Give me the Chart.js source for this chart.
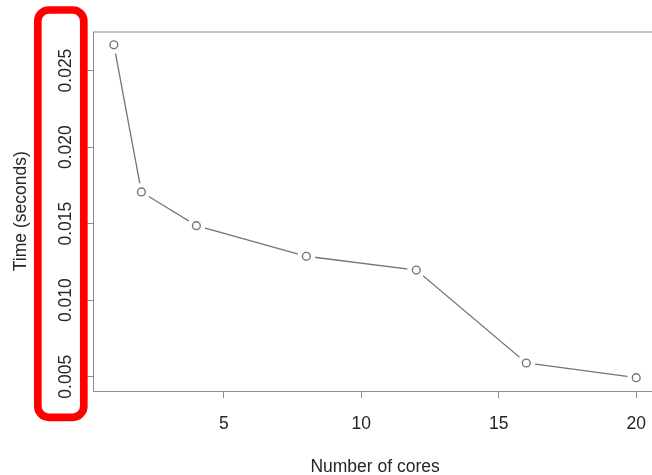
<!DOCTYPE html>
<html>
<head>
<meta charset="utf-8">
<script src="https://cdn.jsdelivr.net/npm/chart.js@4.4.0/dist/chart.umd.min.js"></script>
<style>
    html, body { margin: 0; padding: 0; background: #fff; overflow: hidden; width: 652px; height: 475px; }
    #wrap { width: 662px; height: 475px; }
</style>
</head>
<body>
<div id="wrap"><canvas id="chart" width="662" height="475"></canvas></div>
<script>
    // values
    var cores = [1, 2, 4, 8, 12, 16, 20];
    var times = [0.02668, 0.01707, 0.01487, 0.01287, 0.01197, 0.0059, 0.00494];
    var xTicks = [5, 10, 15, 20];
    var yTicks = [0.005, 0.010, 0.015, 0.020, 0.025];
    var xRange = [0.24, 20.76];
    var yRange = [0.00407, 0.02755];

    var FONT = "'Liberation Sans', Arial, Helvetica, sans-serif";
    var TEXT = '#262626';
    var FRAME = '#8c8c8c';
    var LINE = '#747474';

    function fixTicks(values) {
        return function (scale) {
            scale.ticks = values.map(function (v) { return { value: v }; });
        };
    }

    // R type = "b": open circles with a small gap where the line meets them
    var openCircles = {
        id: 'openCircles',
        afterDatasetsDraw: function (chart) {
            var ctx = chart.ctx;
            ctx.save();
            chart.getDatasetMeta(0).data.forEach(function (pt) {
                ctx.fillStyle = '#fff';
                ctx.beginPath();
                ctx.arc(pt.x, pt.y, 9, 0, Math.PI * 2);
                ctx.fill();
                ctx.strokeStyle = LINE;
                ctx.lineWidth = 1.4;
                ctx.beginPath();
                ctx.arc(pt.x, pt.y, 3.9, 0, Math.PI * 2);
                ctx.stroke();
            });
            ctx.restore();
        }
    };

    var decorations = {
        id: 'decorations',
        afterDraw: function (chart) {
            var ctx = chart.ctx;
            var area = chart.chartArea;
            var y = chart.scales.y;
            ctx.save();

            // plot frame
            ctx.strokeStyle = FRAME;
            ctx.lineWidth = 1;
            ctx.strokeRect(area.left + 0.5, area.top + 0.5, area.right - area.left, area.bottom - area.top);

            // y tick labels, rotated like R's las = 0
            ctx.fillStyle = TEXT;
            ctx.font = '17.5px ' + FONT;
            ctx.textAlign = 'center';
            ctx.textBaseline = 'alphabetic';
            yTicks.forEach(function (v) {
                ctx.save();
                ctx.translate(70.5, y.getPixelForValue(v));
                ctx.rotate(-Math.PI / 2);
                ctx.fillText(v.toFixed(3), 0, 0);
                ctx.restore();
            });

            // red highlight round the y labels
            ctx.strokeStyle = '#ff0000';
            ctx.lineWidth = 7.7;
            ctx.beginPath();
            ctx.roundRect(37.8, 10, 46, 407.3, 11);
            ctx.stroke();
            ctx.restore();
        }
    };

    new Chart(document.getElementById('chart'), {
        type: 'line',
        data: {
            datasets: [{
                data: cores.map(function (c, i) { return { x: c, y: times[i] }; }),
                borderColor: LINE,
                borderWidth: 1.3,
                tension: 0,
                fill: false,
                pointRadius: 0,
            }],
        },
        options: {
            responsive: false,
            animation: false,
            layout: { padding: { top: 31.5, right: 1, left: 0, bottom: 0 } },
            plugins: {
                legend: { display: false },
                tooltip: { enabled: false },
            },
            scales: {
                x: {
                    type: 'linear',
                    min: xRange[0],
                    max: xRange[1],
                    afterBuildTicks: fixTicks(xTicks),
                    afterFit: function (scale) { scale.height = 84; },
                    border: { display: false },
                    grid: { drawOnChartArea: false, drawTicks: true, tickLength: 7, color: FRAME },
                    ticks: { color: TEXT, padding: 16, maxRotation: 0, font: { family: FONT, size: 17.5 } },
                    title: {
                        display: true,
                        text: 'Number of cores',
                        color: TEXT,
                        font: { family: FONT, size: 17.5 },
                        padding: { top: 0, bottom: -2.5 },
                    },
                },
                y: {
                    min: yRange[0],
                    max: yRange[1],
                    afterBuildTicks: fixTicks(yTicks),
                    afterFit: function (scale) { scale.width = 93; },
                    border: { display: false },
                    grid: { drawOnChartArea: false, drawTicks: true, tickLength: 7, color: FRAME },
                    ticks: { display: false },
                    title: {
                        display: true,
                        text: 'Time (seconds)',
                        color: TEXT,
                        font: { family: FONT, size: 17.5 },
                        padding: { top: 11, bottom: 0 },
                    },
                },
            },
        },
        plugins: [openCircles, decorations],
    });
</script>
</body>
</html>
